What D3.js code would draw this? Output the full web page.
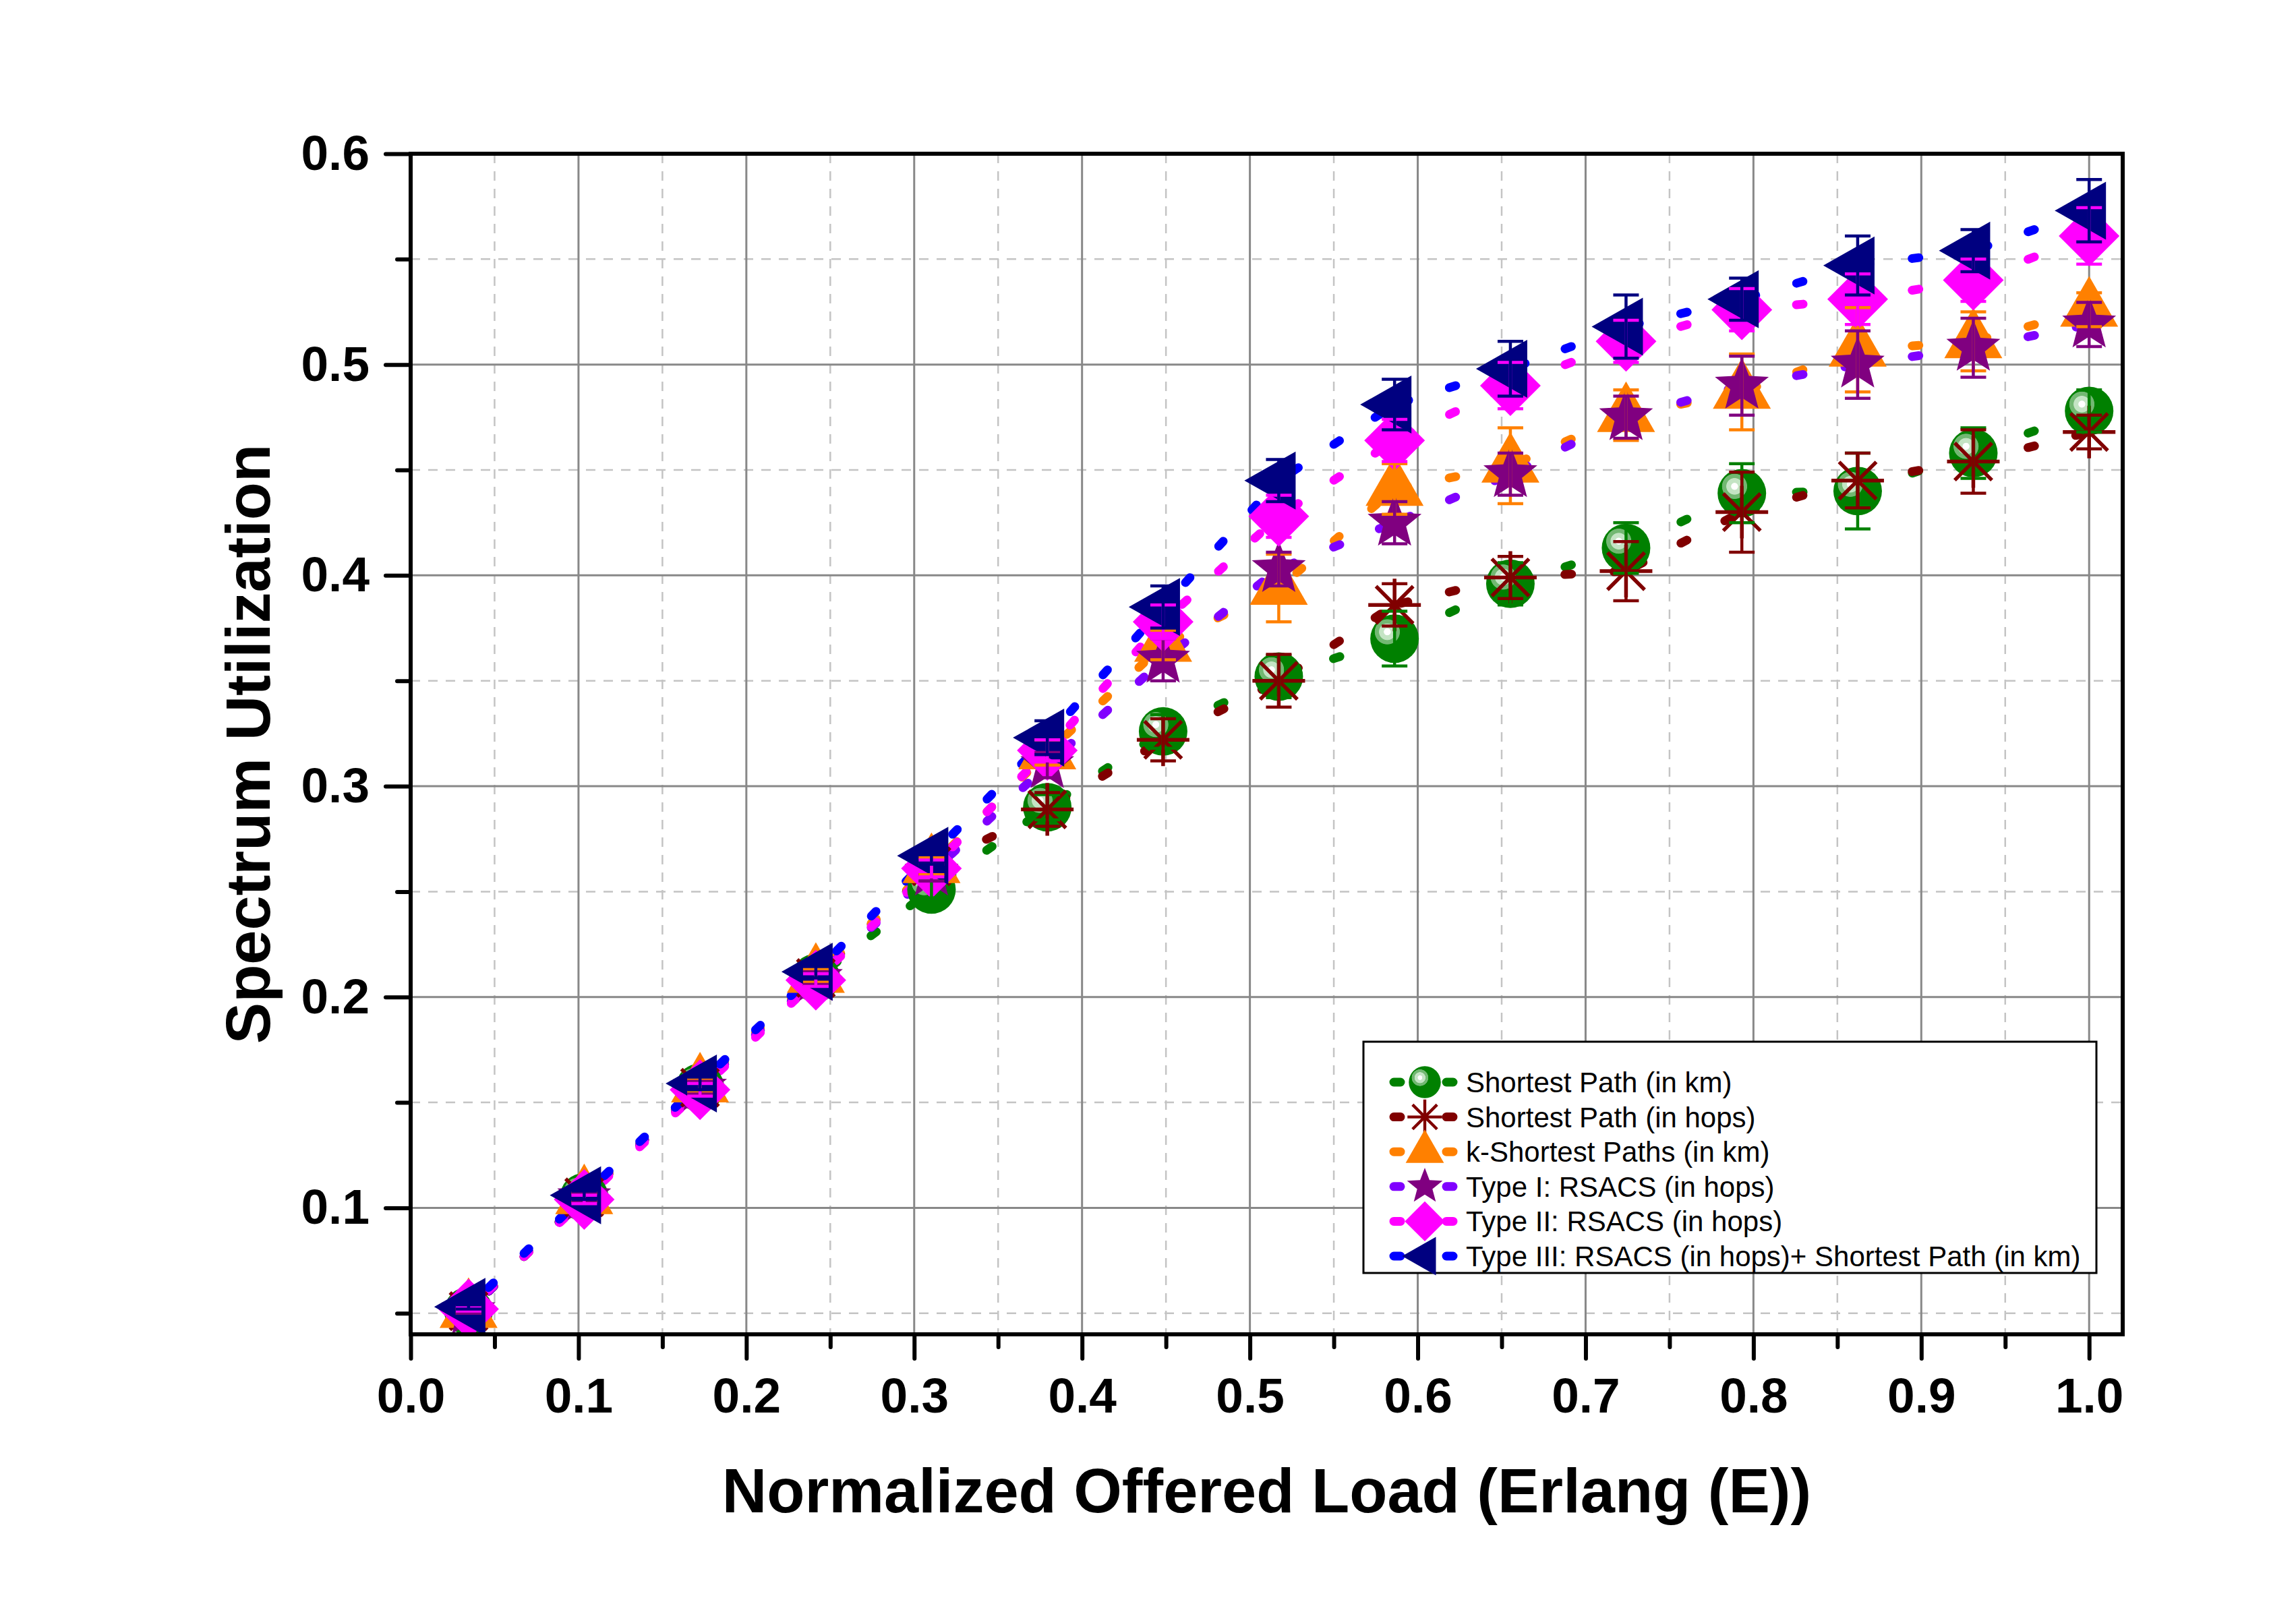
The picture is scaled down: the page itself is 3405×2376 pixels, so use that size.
<!DOCTYPE html>
<html><head><meta charset="utf-8">
<script src="https://cdn.jsdelivr.net/npm/d3@7/dist/d3.min.js"></script>
<style>html,body{margin:0;padding:0;background:#fff;}</style>
</head><body>
<script>
// ---- data ----
const loads = [0.0345, 0.1034, 0.1724, 0.2414, 0.3103, 0.3793, 0.4483, 0.5172, 0.5862, 0.6552, 0.7241, 0.7931, 0.8621, 0.9310, 1.0];
const seriesNames = ["Shortest Path (in km)", "Shortest Path (in hops)", "k-Shortest Paths (in km)", "Type I: RSACS (in hops)", "Type II: RSACS (in hops)", "Type III: RSACS (in hops)+ Shortest Path (in km)"];
const spKm    = [0.051, 0.105, 0.157, 0.209, 0.251, 0.290, 0.326, 0.352, 0.370, 0.396, 0.413, 0.439, 0.440, 0.458, 0.478];
const spHops  = [0.051, 0.105, 0.157, 0.209, 0.262, 0.289, 0.322, 0.350, 0.386, 0.399, 0.402, 0.430, 0.445, 0.454, 0.468];
const kspKm   = [0.051, 0.105, 0.158, 0.210, 0.262, 0.316, 0.367, 0.394, 0.441, 0.452, 0.476, 0.487, 0.507, 0.511, 0.526];
const type1   = [0.051, 0.105, 0.157, 0.209, 0.259, 0.310, 0.360, 0.403, 0.425, 0.448, 0.475, 0.490, 0.500, 0.508, 0.519];
const type2   = [0.052, 0.104, 0.156, 0.208, 0.261, 0.317, 0.378, 0.428, 0.464, 0.490, 0.511, 0.526, 0.531, 0.540, 0.561];
const type3   = [0.053, 0.106, 0.159, 0.212, 0.267, 0.323, 0.385, 0.445, 0.481, 0.498, 0.518, 0.531, 0.547, 0.554, 0.573];
const errSpKm   = [0.001, 0.002, 0.003, 0.003, 0.004, 0.006, 0.008, 0.010, 0.013, 0.010, 0.012, 0.014, 0.018, 0.012, 0.010];
const errSpHops = [0.001, 0.002, 0.003, 0.003, 0.004, 0.008, 0.010, 0.0125, 0.010, 0.010, 0.014, 0.019, 0.013, 0.015, 0.008];
const errKsp    = [0.001, 0.002, 0.003, 0.003, 0.004, 0.006, 0.007, 0.016, 0.012, 0.018, 0.012, 0.018, 0.020, 0.014, 0.008];
const errType1  = [0.001, 0.002, 0.003, 0.003, 0.004, 0.006, 0.010, 0.008, 0.010, 0.010, 0.010, 0.014, 0.016, 0.014, 0.0105];
const errType2  = [0.001, 0.002, 0.003, 0.003, 0.004, 0.005, 0.008, 0.010, 0.010, 0.011, 0.010, 0.010, 0.012, 0.010, 0.0134];
const errType3  = [0.001, 0.002, 0.003, 0.003, 0.004, 0.008, 0.010, 0.010, 0.012, 0.013, 0.015, 0.010, 0.014, 0.010, 0.0148];
const xMajorTicks = [0.0, 0.1, 0.2, 0.3, 0.4, 0.5, 0.6, 0.7, 0.8, 0.9, 1.0];
const xMinorTicks = [0.05, 0.15, 0.25, 0.35, 0.45, 0.55, 0.65, 0.75, 0.85, 0.95];
const yMajorTicks = [0.1, 0.2, 0.3, 0.4, 0.5, 0.6];
const yMinorTicks = [0.05, 0.15, 0.25, 0.35, 0.45, 0.55];
const xTitle = "Normalized Offered Load (Erlang (E))";
const yTitle = "Spectrum Utilization";

const values = [spKm, spHops, kspKm, type1, type2, type3];
const errors = [errSpKm, errSpHops, errKsp, errType1, errType2, errType3];
const markerColors = ["#008000", "#800000", "#FF8000", "#800080", "#FF00FF", "#000080"];
const lineColors   = ["#008000", "#800000", "#FF8000", "#8000FF", "#FF00FF", "#0000FF"];
const shapes = ["sphere", "asterisk", "triUp", "star", "diamond", "triLeft"];

// ---- layout ----
const W = 3405, H = 2376;
const L = 609, R = 3148, T = 228, B = 1979;
const FONT = "'Liberation Sans', Arial, Helvetica, sans-serif";

const x = d3.scaleLinear().domain([0, 1.02]).range([L, R]);
const y = d3.scaleLinear().domain([0.04, 0.6]).range([B, T]);

const svg = d3.select("body").append("svg").attr("width", W).attr("height", H)
  .attr("viewBox", `0 0 ${W} ${H}`).style("display", "block");
svg.append("rect").attr("width", W).attr("height", H).attr("fill", "#fff");

const defs = svg.append("defs");
defs.append("clipPath").attr("id", "plotclip").append("rect")
  .attr("x", L).attr("y", T).attr("width", R - L).attr("height", B - T);
const grad = defs.append("radialGradient").attr("id", "sphereGrad")
  .attr("cx", 0.35).attr("cy", 0.36).attr("fx", 0.35).attr("fy", 0.36).attr("r", 0.55);
[[0, "#ffffff"], [0.12, "#ffffff"], [0.14, "#c4e4c4"], [0.30, "#c4e4c4"], [0.32, "#72b872"],
 [0.46, "#72b872"], [0.48, "#008000"], [1, "#008000"]].forEach(s =>
  grad.append("stop").attr("offset", s[0]).attr("stop-color", s[1]));

// ---- grid ----
const grid = svg.append("g");
xMinorTicks.forEach(v => grid.append("line").attr("x1", x(v)).attr("x2", x(v)).attr("y1", T).attr("y2", B)
  .attr("stroke", "#c4c4c4").attr("stroke-width", 2.5).attr("stroke-dasharray", "14 12"));
yMinorTicks.forEach(v => grid.append("line").attr("x1", L).attr("x2", R).attr("y1", y(v)).attr("y2", y(v))
  .attr("stroke", "#c4c4c4").attr("stroke-width", 2.5).attr("stroke-dasharray", "14 12"));
xMajorTicks.filter(v => v > 0).forEach(v => grid.append("line").attr("x1", x(v)).attr("x2", x(v)).attr("y1", T).attr("y2", B)
  .attr("stroke", "#888888").attr("stroke-width", 3));
yMajorTicks.filter(v => v < 0.6).forEach(v => grid.append("line").attr("x1", L).attr("x2", R).attr("y1", y(v)).attr("y2", y(v))
  .attr("stroke", "#888888").attr("stroke-width", 3));

// ---- axes ----
const fmt = d3.format(".1f");
const gx = svg.append("g").attr("transform", `translate(0,${B})`)
  .call(d3.axisBottom(x).tickValues(xMajorTicks).tickSize(36).tickPadding(28).tickFormat(fmt));
const gxm = svg.append("g").attr("transform", `translate(0,${B})`)
  .call(d3.axisBottom(x).tickValues(xMinorTicks).tickSize(19).tickFormat(""));
const gy = svg.append("g").attr("transform", `translate(${L},0)`)
  .call(d3.axisLeft(y).tickValues(yMajorTicks).tickSize(37).tickPadding(24).tickFormat(fmt));
const gym = svg.append("g").attr("transform", `translate(${L},0)`)
  .call(d3.axisLeft(y).tickValues(yMinorTicks).tickSize(20).tickFormat(""));
[gx, gxm, gy, gym].forEach(g => {
  g.select(".domain").remove();
  g.selectAll(".tick line").attr("stroke", "#000").attr("stroke-width", 6).attr("stroke-linecap", "round");
  g.selectAll(".tick text").attr("fill", "#000").style("font-family", FONT)
    .style("font-weight", "bold").style("font-size", "73px");
});

// ---- marker shapes ----
function shapePath(shape, s) {
  const p = d3.path();
  if (shape === "triUp") {
    p.moveTo(0, -50 * s); p.lineTo(43 * s, 25 * s); p.lineTo(-43 * s, 25 * s); p.closePath();
  } else if (shape === "triLeft") {
    p.moveTo(-51 * s, 0); p.lineTo(25 * s, -43 * s); p.lineTo(25 * s, 43 * s); p.closePath();
  } else if (shape === "diamond") {
    p.moveTo(0, -45 * s); p.lineTo(45 * s, 0); p.lineTo(0, 45 * s); p.lineTo(-45 * s, 0); p.closePath();
  } else if (shape === "star") {
    const Ro = 42 * s, Ri = 18 * s;
    for (let k = 0; k < 10; k++) {
      const a = -Math.PI / 2 + k * Math.PI / 5, r = k % 2 ? Ri : Ro;
      const px = r * Math.cos(a), py = r * Math.sin(a);
      if (k === 0) p.moveTo(px, py); else p.lineTo(px, py);
    }
    p.closePath();
  } else if (shape === "asterisk") {
    const r = 39 * s;
    for (let k = 0; k < 4; k++) {
      const a = k * Math.PI / 4;
      p.moveTo(-r * Math.cos(a), -r * Math.sin(a)); p.lineTo(r * Math.cos(a), r * Math.sin(a));
    }
  }
  return p.toString();
}
function drawMarker(g, shape, color, cx, cy, s) {
  if (shape === "sphere") {
    g.append("circle").attr("cx", cx).attr("cy", cy).attr("r", 36 * s).attr("fill", "url(#sphereGrad)");
  } else if (shape === "asterisk") {
    g.append("path").attr("transform", `translate(${cx},${cy})`).attr("d", shapePath(shape, s))
      .attr("stroke", color).attr("stroke-width", 5.5 * Math.max(s, 0.8)).attr("fill", "none");
  } else {
    g.append("path").attr("transform", `translate(${cx},${cy})`).attr("d", shapePath(shape, s))
      .attr("fill", color);
  }
}

// ---- data layers ----
const plot = svg.append("g").attr("clip-path", "url(#plotclip)");
const PERIOD = 73, DASH = 10;
// dotted lines, each segment with pattern centred on the segment
values.forEach((vals, si) => {
  const g = plot.append("g");
  for (let i = 0; i < loads.length - 1; i++) {
    const x0 = x(loads[i]), y0 = y(vals[i]), x1 = x(loads[i + 1]), y1 = y(vals[i + 1]);
    const len = Math.hypot(x1 - x0, y1 - y0);
    const start = len / 2 - DASH / 2;
    const off = ((PERIOD - (start % PERIOD)) % PERIOD);
    g.append("line").attr("x1", x0).attr("y1", y0).attr("x2", x1).attr("y2", y1)
      .attr("stroke", lineColors[si]).attr("stroke-width", 13).attr("stroke-linecap", "round")
      .attr("stroke-dasharray", `${DASH} ${PERIOD - DASH}`).attr("stroke-dashoffset", off);
  }
});
// markers
values.forEach((vals, si) => {
  const g = plot.append("g");
  vals.forEach((v, i) => drawMarker(g, shapes[si], markerColors[si], x(loads[i]), y(v), 1));
});
// error bars
values.forEach((vals, si) => {
  const g = plot.append("g").attr("stroke", markerColors[si]).attr("stroke-width", 4.5);
  vals.forEach((v, i) => {
    const cx = x(loads[i]), e = errors[si][i];
    const yt = y(v + e), yb = y(v - e);
    g.append("line").attr("x1", cx).attr("x2", cx).attr("y1", yt).attr("y2", yb);
    g.append("line").attr("x1", cx - 19).attr("x2", cx + 19).attr("y1", yt).attr("y2", yt);
    g.append("line").attr("x1", cx - 19).attr("x2", cx + 19).attr("y1", yb).attr("y2", yb);
  });
});

// ---- frame ----
svg.append("rect").attr("x", L).attr("y", T).attr("width", R - L).attr("height", B - T)
  .attr("fill", "none").attr("stroke", "#000").attr("stroke-width", 6);

// ---- legend ----
const lg = svg.append("g");
lg.append("rect").attr("x", 2022).attr("y", 1545).attr("width", 3109 - 2022).attr("height", 1888 - 1545)
  .attr("fill", "#fff").attr("stroke", "#000").attr("stroke-width", 3);
seriesNames.forEach((name, si) => {
  const cy = 1605 + si * 51.6;
  lg.append("line").attr("x1", 2067).attr("x2", 2160).attr("y1", cy).attr("y2", cy)
    .attr("stroke", lineColors[si]).attr("stroke-width", 13).attr("stroke-linecap", "round")
    .attr("stroke-dasharray", "10 68");
  drawMarker(lg, shapes[si], markerColors[si], 2113, cy, 0.66);
  lg.append("text").attr("x", 2174).attr("y", cy + 15).text(name)
    .style("font-family", FONT).style("font-size", "42px").attr("fill", "#000");
});

// ---- titles ----
svg.append("text").attr("x", (L + R) / 2).attr("y", 2243).attr("text-anchor", "middle").text(xTitle)
  .style("font-family", FONT).style("font-weight", "bold").style("font-size", "92px");
svg.append("text").attr("transform", `translate(400,${(T + B) / 2}) rotate(-90)`).attr("text-anchor", "middle")
  .text(yTitle).style("font-family", FONT).style("font-weight", "bold").style("font-size", "92px");
</script>
</body></html>
